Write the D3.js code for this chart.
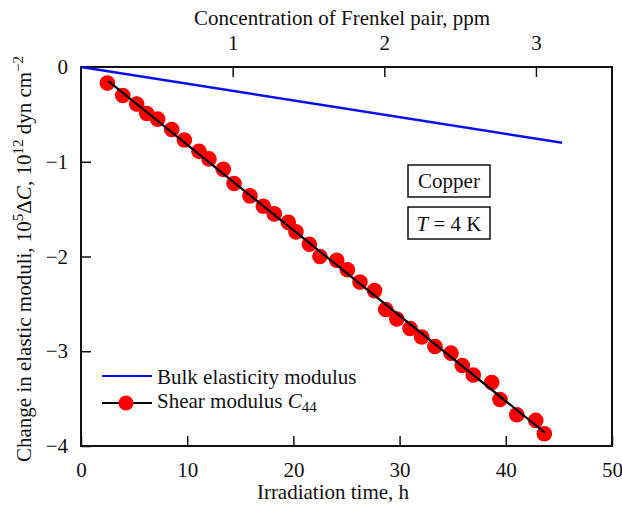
<!DOCTYPE html>
<html>
<head>
<meta charset="utf-8">
<script src="https://cdn.jsdelivr.net/npm/d3@7/dist/d3.min.js"></script>
<style>
  html, body { margin: 0; padding: 0; background: #fff; }
  svg { display: block; }
</style>
</head>
<body>
<svg id="chart" width="622" height="506"></svg>
<script>
// Irradiation time (h) and shear modulus change C44 measurements
const shearHours = [2.48, 3.93, 5.24, 6.19, 7.22, 8.54, 9.73, 11.11, 12.05, 13.40,
  14.41, 15.91, 17.17, 18.20, 19.52, 20.24, 21.50, 22.50, 24.08, 25.08,
  26.27, 27.64, 28.69, 29.73, 30.98, 32.08, 33.33, 34.84, 35.90, 36.94,
  38.67, 39.45, 41.03, 42.82, 43.63];
const shearValues = [-0.17, -0.30, -0.39, -0.49, -0.55, -0.66, -0.77, -0.89, -0.97, -1.08,
  -1.23, -1.36, -1.47, -1.55, -1.64, -1.74, -1.87, -2.00, -2.04, -2.14,
  -2.27, -2.36, -2.56, -2.66, -2.76, -2.85, -2.95, -3.02, -3.15, -3.25,
  -3.33, -3.51, -3.67, -3.73, -3.87];
// Linear fit through the shear data
const shearFitHours = [2.57, 43.7];
const shearFitValues = [-0.15, -3.86];
// Bulk elasticity modulus change
const bulkHours = [0, 45.3];
const bulkValues = [0, -0.80];

const xTicks = [0, 10, 20, 30, 40, 50];
const yTicks = [0, -1, -2, -3, -4];
const ppmTicks = [1, 2, 3];
const hoursPerPpm = 14.28;

const FONT = "'Liberation Serif', 'Times New Roman', Times, serif";
const FS = "21px";
const FS_SUP = "15px";

const svg = d3.select("#chart").style("font-family", FONT);
const m = { left: 81, right: 612, top: 67, bottom: 446 };

const x = d3.scaleLinear().domain([0, 50]).range([m.left, m.right]);
const y = d3.scaleLinear().domain([-4, 0]).range([m.bottom, m.top]);
const xPpm = d3.scaleLinear().domain([0, 50 / hoursPerPpm]).range([m.left, m.right]);

const fmt = d => d < 0 ? "\u2212" + Math.abs(d) : String(d);

// Bottom axis (ticks point inward)
const gx = svg.append("g").attr("transform", `translate(0,${m.bottom})`)
  .call(d3.axisBottom(x).tickValues(xTicks).tickSizeInner(-10).tickSizeOuter(0).tickPadding(16));
// Left axis
const gy = svg.append("g").attr("transform", `translate(${m.left},0)`)
  .call(d3.axisLeft(y).tickValues(yTicks).tickFormat(fmt).tickSizeInner(-10).tickSizeOuter(0).tickPadding(13));
// Top axis in Frenkel pair concentration
const gt = svg.append("g").attr("transform", `translate(0,${m.top})`)
  .call(d3.axisTop(xPpm).tickValues(ppmTicks).tickFormat(d3.format("d"))
    .tickSizeInner(-10).tickSizeOuter(0).tickPadding(17));

[gx, gy, gt].forEach(g => {
  g.attr("font-family", FONT).attr("font-size", FS);
  g.select(".domain").remove();
  g.selectAll(".tick line").attr("stroke", "#111").attr("stroke-width", 1.5);
  g.selectAll(".tick text").attr("fill", "#111");
});

// Plot frame
svg.append("rect")
  .attr("x", m.left).attr("y", m.top)
  .attr("width", m.right - m.left).attr("height", m.bottom - m.top)
  .attr("fill", "none").attr("stroke", "#111").attr("stroke-width", 2);

const line = d3.line().x(d => x(d[0])).y(d => y(d[1]));

// Bulk modulus line
svg.append("path")
  .datum(d3.zip(bulkHours, bulkValues))
  .attr("d", line).attr("fill", "none")
  .attr("stroke", "#0a0ff0").attr("stroke-width", 2.5);

// Shear modulus points
svg.append("g").selectAll("circle")
  .data(d3.zip(shearHours, shearValues))
  .join("circle")
  .attr("cx", d => x(d[0])).attr("cy", d => y(d[1]))
  .attr("r", 7.8).attr("fill", "#ff0000");

// Shear fit line
svg.append("path")
  .datum(d3.zip(shearFitHours, shearFitValues))
  .attr("d", line).attr("fill", "none")
  .attr("stroke", "#000").attr("stroke-width", 2.2);

const txt = (sel) => sel.attr("font-family", FONT).attr("font-size", FS).attr("fill", "#111");

// Legend
const lg = svg.append("g");
lg.append("line").attr("x1", 102).attr("x2", 152).attr("y1", 376).attr("y2", 376)
  .attr("stroke", "#0a0ff0").attr("stroke-width", 2.2);
lg.append("text").attr("x", 157).attr("y", 384).call(txt)
  .text("Bulk elasticity modulus");
lg.append("line").attr("x1", 102).attr("x2", 152).attr("y1", 403).attr("y2", 403)
  .attr("stroke", "#000").attr("stroke-width", 2.2);
lg.append("circle").attr("cx", 126).attr("cy", 403).attr("r", 7.5).attr("fill", "#ff0000");
const shearLabel = lg.append("text").attr("x", 157).attr("y", 408).call(txt);
shearLabel.append("tspan").text("Shear modulus ");
shearLabel.append("tspan").attr("font-style", "italic").text("C");
shearLabel.append("tspan").attr("dy", 4).attr("font-size", FS_SUP).text("44");

// Annotation boxes
const boxes = svg.append("g");
boxes.append("rect").attr("x", 408).attr("y", 165).attr("width", 82).attr("height", 32)
  .attr("fill", "#fff").attr("stroke", "#111").attr("stroke-width", 1.5);
boxes.append("text").attr("x", 449).attr("y", 187.5).attr("text-anchor", "middle")
  .call(txt).text("Copper");
boxes.append("rect").attr("x", 408).attr("y", 207).attr("width", 82).attr("height", 32)
  .attr("fill", "#fff").attr("stroke", "#111").attr("stroke-width", 1.5);
const tLabel = boxes.append("text").attr("x", 449).attr("y", 231).attr("text-anchor", "middle")
  .call(txt);
tLabel.append("tspan").attr("font-style", "italic").text("T");
tLabel.append("tspan").text(" = 4 K");

// Axis titles
svg.append("text").attr("x", 333).attr("y", 499).attr("text-anchor", "middle")
  .call(txt).text("Irradiation time, h");
svg.append("text").attr("x", 342).attr("y", 25).attr("text-anchor", "middle")
  .call(txt).text("Concentration of Frenkel pair, ppm");

const yTitle = svg.append("text")
  .attr("transform", "translate(31,259) rotate(-90)")
  .attr("text-anchor", "middle").call(txt);
yTitle.append("tspan").text("Change in elastic moduli, 10");
yTitle.append("tspan").attr("dy", -8).attr("font-size", FS_SUP).text("5");
yTitle.append("tspan").attr("dy", 8).text("\u0394");
yTitle.append("tspan").attr("font-style", "italic").text("C");
yTitle.append("tspan").text(", 10");
yTitle.append("tspan").attr("dy", -8).attr("font-size", FS_SUP).text("12");
yTitle.append("tspan").attr("dy", 8).text(" dyn cm");
yTitle.append("tspan").attr("dy", -8).attr("font-size", FS_SUP).text("\u22122");
</script>
</body>
</html>
